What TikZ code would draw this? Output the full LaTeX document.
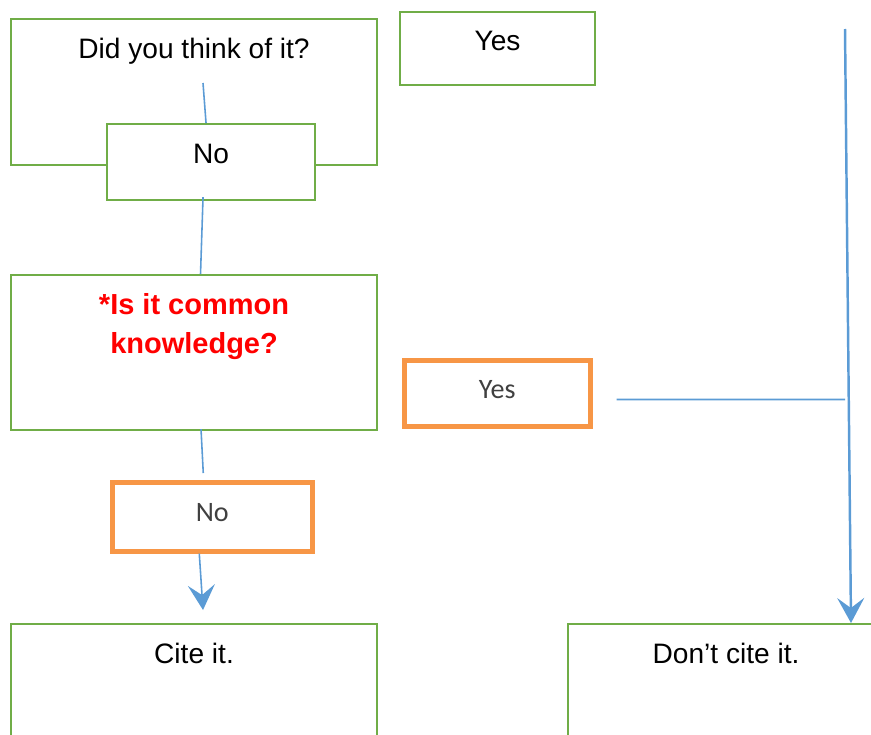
\documentclass[tikz,border=0pt]{standalone}
\usepackage{fontspec}
\setmainfont{Liberation Sans}
\newfontfamily\calibri{Carlito}
\usetikzlibrary{arrows.meta}
\definecolor{boxgreen}{HTML}{70AD47}
\definecolor{boxorange}{HTML}{F79646}
\definecolor{linkblue}{HTML}{5B9BD5}
\definecolor{labelgray}{HTML}{404040}
\tikzset{
 greenbox/.style={draw=boxgreen, line width=1.2pt, fill=white, anchor=north west, inner sep=0pt, align=center, font=\fontsize{16}{19}\selectfont},
 orangebox/.style={draw=boxorange, line width=2.6pt, fill=white, anchor=north west, inner sep=0pt, align=center, text=labelgray, font=\calibri\fontsize{16}{19}\selectfont},
 link/.style={draw=linkblue, line width=0.9pt},
}
\begin{document}
\begin{tikzpicture}[x=0.02cm, y=-0.02cm, >={Stealth[length=0.5cm, width=0.54cm, inset=0.2cm]}]
\path[use as bounding box, clip] (0,0) rectangle (871,734);

\node[greenbox, minimum width=7.32cm, text height=0.78cm, text depth=2.14cm] (think) at (10,18) {Did you think of it?};
\node[greenbox, minimum width=3.9cm, text height=0.76cm, text depth=0.70cm] (yesA) at (399,11) {Yes};
\node[greenbox, minimum width=4.16cm, text height=0.78cm, text depth=0.74cm] (noA) at (106,123) {No};
\node[greenbox, minimum width=7.32cm, text height=1.56cm, text depth=1.54cm, text=red,
 font=\fontsize{16.5}{22}\selectfont\bfseries] (common) at (10,274) {*Is it common\\knowledge?};
\node[orangebox, minimum width=3.72cm, text height=0.76cm, text depth=0.57cm] (yesB) at (402,358) {Yes};
\node[orangebox, minimum width=4.0cm, text height=0.78cm, text depth=0.60cm] (noB) at (110,480) {No};
\node[greenbox, minimum width=7.32cm, text height=0.78cm, text depth=2.42cm] (cite) at (10,623) {Cite it.};
\node[greenbox, minimum width=6.32cm, text height=0.78cm, text depth=2.42cm] (dontcite) at (567,623) {Don’t cite it.};

\coordinate (t1) at (203,83);
\coordinate (r0) at (845,29);
\coordinate (r1) at (845,399.5);

\draw[link] (t1) -- ([xshift=-0.1cm]noA.north);
\draw[link] ([xshift=-0.16cm, yshift=0.08cm]noA.south) -- ([xshift=0.13cm]common.north);
\draw[link] ([xshift=0.14cm, yshift=0.04cm]common.south) -- ([xshift=-0.18cm, yshift=0.14cm]noB.north);
\draw[link, ->] ([xshift=-0.26cm]noB.south) -- ([xshift=0.18cm, yshift=0.26cm]cite.north);
\draw[link] ([xshift=0.48cm, yshift=-0.12cm]yesB.east) -- (r1);
\draw[link, line width=1.4pt, ->] (r0) -- ([xshift=2.5cm]dontcite.north);

\end{tikzpicture}
\end{document}
